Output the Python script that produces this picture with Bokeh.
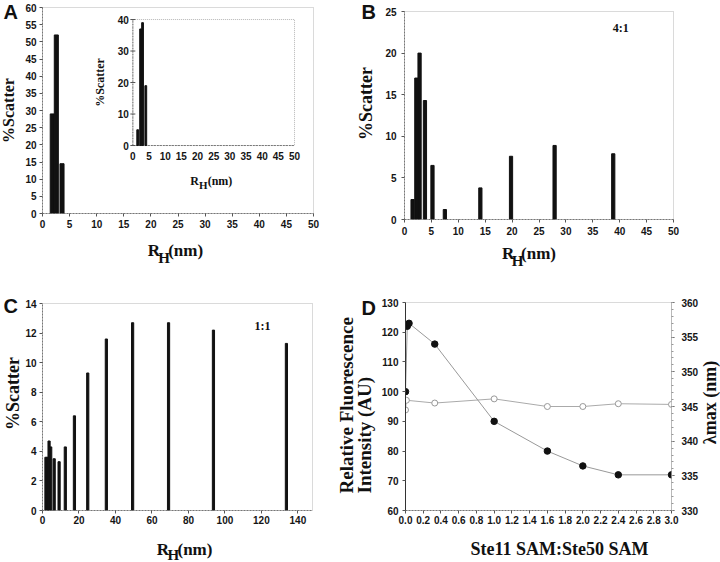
from math import pi
from bokeh.plotting import figure
from bokeh.models import Range1d, Label, LinearAxis, FixedTicker, PrintfTickFormatter
from bokeh.layouts import column, row
from bokeh.embed import file_html
from bokeh.resources import INLINE
from bokeh.core.properties import value

# ---------------- data ----------------
A_rh = [1.8, 2.55, 3.6]
A_scatter = [29, 52, 14.5]
A_xticks = [0, 5, 10, 15, 20, 25, 30, 35, 40, 45, 50]
A_yticks = [0, 5, 10, 15, 20, 25, 30, 35, 40, 45, 50, 55, 60]

inset_rh = [1.5, 2.4, 3.0, 4.0]
inset_scatter = [5, 37, 39, 19]
inset_xticks = [0, 5, 10, 15, 20, 25, 30, 35, 40, 45, 50]
inset_yticks = [0, 10, 20, 30, 40]

B_rh = [1.5, 2.2, 2.8, 3.8, 5.2, 7.5, 14.1, 19.8, 27.9, 38.8]
B_scatter = [2.4, 17, 20, 14.3, 6.5, 1.2, 3.8, 7.6, 8.9, 7.9]
B_xticks = [0, 5, 10, 15, 20, 25, 30, 35, 40, 45, 50]
B_yticks = [0, 5, 10, 15, 20, 25]

C_rh = [1.9, 2.9, 3.6, 4.5, 6.4, 9.1, 12.5, 17.5, 24.8, 35, 49.4, 69.1, 93.7, 133.7]
C_scatter = [3.6, 3.6, 4.7, 4.3, 3.5, 3.3, 4.3, 6.4, 9.3, 11.6, 12.7, 12.7, 12.2, 11.3]
C_xticks = [0, 20, 40, 60, 80, 100, 120, 140]
C_yticks = [0, 2, 4, 6, 8, 10, 12, 14]

D_ratio_int = [0, 0.02, 0.04, 0.33, 1.0, 1.6, 2.0, 2.4, 3.0]
D_intensity = [100, 122, 123, 116, 90, 80, 75, 72, 72]
D_ratio_lam = [0, 0.01, 0.33, 1.0, 1.6, 2.0, 2.4, 3.0]
D_lambda = [344.5, 345.9, 345.5, 346.1, 345.0, 345.0, 345.4, 345.3]
D_xticks = [0.0, 0.2, 0.4, 0.6, 0.8, 1.0, 1.2, 1.4, 1.6, 1.8, 2.0, 2.2, 2.4, 2.6, 2.8, 3.0]
D_yticks_left = [60, 70, 80, 90, 100, 110, 120, 130]
D_yticks_right = [330, 335, 340, 345, 350, 355, 360]

SANS = "Liberation Sans"
SERIF = "Liberation Serif"
TICK_SIZE = "10px"
INK = "#111111"


def make_fig(w, h, xr, yr, bl, br, bt, bb):
    p = figure(width=w, height=h, x_range=xr, y_range=yr,
               output_backend="svg", toolbar_location=None,
               min_border_left=bl, min_border_right=br,
               min_border_top=bt, min_border_bottom=bb)
    p.xgrid.visible = False
    p.ygrid.visible = False
    p.outline_line_color = "#b5b5b5"
    p.outline_line_dash = "1 1"
    p.background_fill_color = "white"
    p.border_fill_color = "white"
    return p


def style_axis(ax, ticks, standoff, line_color="#777", dash="2 1"):
    ax.ticker = FixedTicker(ticks=ticks)
    ax.axis_line_color = line_color
    ax.axis_line_dash = dash
    ax.major_tick_line_color = "#555"
    ax.major_tick_out = 3
    ax.major_tick_in = 0
    ax.minor_tick_out = 0
    ax.minor_tick_in = 0
    ax.major_label_standoff = standoff
    ax.major_label_text_font = SANS
    ax.major_label_text_font_style = "bold"
    ax.major_label_text_font_size = TICK_SIZE
    ax.major_label_text_color = "#151515"


def strip(w, h, left, top):
    """A blank text canvas covering the page region (left, top, w, h)."""
    s = figure(width=w, height=h, x_range=Range1d(0, w), y_range=Range1d(0, h),
               output_backend="svg", toolbar_location=None,
               x_axis_location=None, y_axis_location=None,
               min_border_left=0, min_border_right=0,
               min_border_top=0, min_border_bottom=0)
    s.xgrid.visible = False
    s.ygrid.visible = False
    s.outline_line_color = None
    s.background_fill_color = "white"
    s.border_fill_color = "white"
    s.tags = [left, top, h]
    return s


def stext(s, x, y, text, size, font=SERIF, angle=0, align="center", baseline="middle"):
    left, top, h = s.tags
    s.text(x=[x - left], y=[h - (y - top)], text=[text], angle=angle,
           text_align=align, text_baseline=baseline,
           text_font=value(font), text_font_style="bold",
           text_font_size=f"{size}px", text_color=INK)


def rh_text(s, cx, base, drop, size=17, sub=15):
    w_r, w_h, w_nm = 0.722 * size, 0.778 * sub, 2.055 * size
    x0 = cx - (w_r + w_h + w_nm) / 2
    stext(s, x0, base, "R", size, align="left", baseline="alphabetic")
    stext(s, x0 + w_r, base + drop, "H", sub, align="left", baseline="alphabetic")
    stext(s, x0 + w_r + w_h, base, "(nm)", size, align="left", baseline="alphabetic")


def in_label(p, x, y, text, size):
    p.add_layout(Label(x=x, y=y, text=text, text_align="center", text_baseline="middle",
                       text_font=SERIF, text_font_style="bold",
                       text_font_size=f"{size}px", text_color=INK))


# ---------------- Panel A ----------------
pA = make_fig(318, 232, Range1d(0, 50), Range1d(0, 60), 18, 27, 7, 19)
style_axis(pA.xaxis[0], A_xticks, 3)
style_axis(pA.yaxis[0], A_yticks, 3)
pA.vbar(x=A_rh, top=A_scatter, width=0.75, color=INK)

# inset (own scales mapped into panel A)
ix = Range1d(0, 50)
iy = Range1d(0, 40)
sub = pA.subplot(x_source=ix, y_source=iy,
                 x_target=Range1d(16.67, 46.5), y_target=Range1d(19.8, 56.5))
sub.quad(left=[ix.start], right=[ix.end], bottom=[iy.start], top=[iy.end],
         fill_color="white", line_color="#b5b5b5", line_dash="1 1")
sub.segment(x0=[ix.start, ix.start], y0=[iy.start, iy.start],
            x1=[ix.end, ix.start], y1=[iy.start, iy.end],
            line_color="#777", line_dash="2 1")
sub.vbar(x=inset_rh, top=inset_scatter, width=0.55, color=INK)
sub.scatter(x=[ix.start] * len(inset_yticks), y=inset_yticks, marker="dash",
            size=5, line_color="#555")
sub.text(x=[ix.start] * len(inset_yticks), y=inset_yticks,
         text=[str(t) for t in inset_yticks], x_offset=-4,
         text_align="right", text_baseline="middle",
         text_font=value(SANS), text_font_style="bold",
         text_font_size=TICK_SIZE, text_color="#151515")
sub.text(x=inset_xticks, y=[iy.start] * len(inset_xticks),
         text=[str(t) for t in inset_xticks], y_offset=6,
         text_align="center", text_baseline="top",
         text_font=value(SANS), text_font_style="bold",
         text_font_size=TICK_SIZE, text_color="#151515")
sub.text(x=[ix.start], y=[20], text=["%Scatter"], angle=pi / 2, x_offset=-33,
         text_align="center", text_baseline="middle",
         text_font=value(SERIF), text_font_style="bold",
         text_font_size="12px", text_color=INK)
for t, xo, yo, al, fs in [("R", -14.8, 35, "right", "12px"),
                          ("H", -14.8, 39, "left", "11px"),
                          ("(nm)", -6.0, 35, "left", "12px")]:
    sub.text(x=[25], y=[iy.start], text=[t], x_offset=xo, y_offset=yo,
             text_align=al, text_baseline="alphabetic",
             text_font=value(SERIF), text_font_style="bold",
             text_font_size=fs, text_color=INK)

LA = strip(22, 270, 0, 0)
stext(LA, 3, 0, "A", 20, font=SANS, align="left", baseline="top")
stext(LA, 8, 110, "%Scatter", 16, angle=pi / 2)
SA = strip(318, 38, 22, 232)
rh_text(SA, 175, 250, 7)

# ---------------- Panel B ----------------
pB = make_fig(338, 239, Range1d(0, 50), Range1d(0, 25), 20, 47, 11, 20)
style_axis(pB.xaxis[0], B_xticks, 4)
style_axis(pB.yaxis[0], B_yticks, 5)
pB.vbar(x=B_rh, top=B_scatter, width=0.6, color=INK)
in_label(pB, 40.2, 23.0, "4:1", 12)

LB = strip(42, 270, 340, 0)
stext(LB, 361, 0, "B", 20, font=SANS, align="left", baseline="top")
stext(LB, 365, 103, "%Scatter", 18, angle=pi / 2)
SB = strip(338, 31, 382, 239)
rh_text(SB, 534, 253, 7)

# ---------------- Panel C ----------------
pC = make_fig(313, 258, Range1d(0, 148), Range1d(0, 14), 18, 23, 33, 18)
style_axis(pC.xaxis[0], C_xticks, 2)
style_axis(pC.yaxis[0], C_yticks, 3)
pC.vbar(x=C_rh, top=C_scatter, width=1.2, color=INK)
in_label(pC, 120.6, 12.5, "1:1", 12)

LC = strip(22, 292, 0, 270)
stext(LC, 3, 294, "C", 20, font=SANS, align="left", baseline="top")
stext(LC, 12.5, 393, "%Scatter", 18, angle=pi / 2)
SC = strip(313, 34, 22, 528)
rh_text(SC, 184, 549, 5)

# ---------------- Panel D ----------------
pD = make_fig(323, 258, Range1d(0, 3), Range1d(60, 130), 25, 28, 32, 18)
pD.extra_y_ranges = {"lam": Range1d(330, 360)}
style_axis(pD.xaxis[0], D_xticks, 2)
pD.xaxis[0].formatter = PrintfTickFormatter(format="%.1f")
pD.xaxis[0].minor_tick_out = 2
style_axis(pD.yaxis[0], D_yticks_left, 4, line_color="#333", dash="solid")
rax = LinearAxis(y_range_name="lam")
pD.add_layout(rax, "right")
style_axis(rax, D_yticks_right, 7, line_color="#999", dash="1 1")
rax.ticker = FixedTicker(ticks=D_yticks_right, minor_ticks=list(range(330, 361)))
rax.minor_tick_out = 2
rax.minor_tick_line_color = "#999"

pD.line(D_ratio_lam, D_lambda, y_range_name="lam", line_color="#aaa", line_width=1)
pD.scatter(D_ratio_lam, D_lambda, y_range_name="lam", size=6,
           fill_color="white", line_color="#999", line_width=1)
pD.line(D_ratio_int, D_intensity, line_color="#999", line_width=1)
pD.scatter(D_ratio_int, D_intensity, size=6.5, fill_color=INK, line_color=INK)

LD = strip(43, 292, 335, 270)
stext(LD, 346, 493, "Relative Fluorescence", 19, angle=pi / 2, align="left")
stext(LD, 364, 493, "Intensity (AU)", 19, angle=pi / 2, align="left")
stext(LD, 361, 296, "D", 20, font=SANS, align="left", baseline="top")
SD = strip(323, 34, 378, 528)
stext(SD, 565, 548, "Ste11 SAM:Ste50 SAM", 18, baseline="alphabetic")
RD = strip(19, 292, 701, 270)
stext(RD, 709, 402, "λmax (nm)", 18, angle=pi / 2)

top_row = row(LA, column(pA, SA), LB, column(pB, SB))
bottom_row = row(LC, column(pC, SC), LD, column(pD, SD), RD)
layout = column(top_row, bottom_row)
open("out.html", "w").write(file_html(layout, INLINE))
